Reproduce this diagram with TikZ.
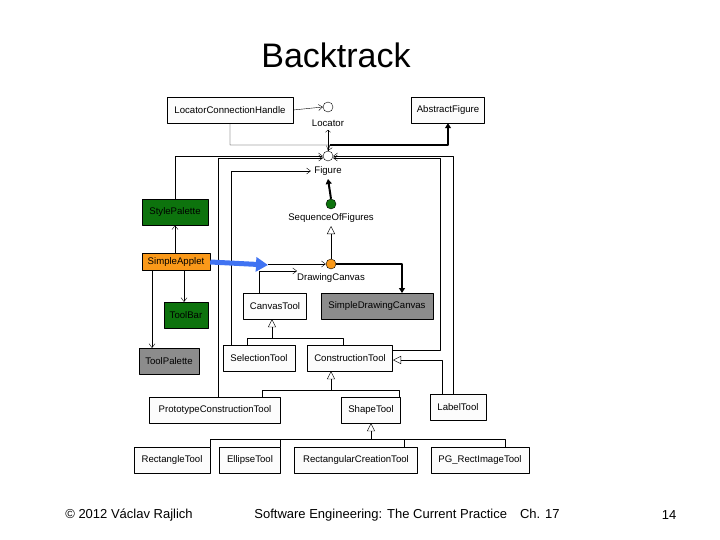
\documentclass[tikz,border=0pt]{standalone}
\usepackage{fontspec}
\setmainfont{Liberation Sans}
\usetikzlibrary{arrows.meta}
\definecolor{dkgreen}{rgb}{0.05,0.45,0.05}
\definecolor{applet}{rgb}{0.98,0.6,0.1}
\definecolor{boxgray}{rgb}{0.55,0.55,0.55}
\definecolor{boxfill}{rgb}{0.99,0.99,0.99}
\definecolor{arrblue}{rgb}{0.25,0.45,0.95}
\tikzset{
  cls/.style={draw, fill=boxfill, inner sep=0pt, minimum height=26pt, font=\fontsize{9.6}{11}\selectfont},
  ifc/.style={draw, circle, fill=white, minimum size=10pt, inner sep=0pt},
  lbl/.style={font=\fontsize{9.6}{11}\selectfont},
  uses/.style={-{Straight Barb[length=4pt,width=6pt]}},
  isa/.style={-{Triangle[open,length=8pt,width=8pt]}},
  strong/.style={line width=2pt,-{Triangle[length=5pt,width=6pt]}}
}
\begin{document}
\begin{tikzpicture}[x=1pt,y=-1pt,line join=round]
\useasboundingbox (0,0) rectangle (720,540);
\node[font=\fontsize{34}{38}\selectfont] (title) at (336,55) {Backtrack};
% classes
\node[cls, minimum width=126pt] (lch) at (230,110) {LocatorConnectionHandle};
\node[cls, minimum width=73pt] (abs) at (448,110) {AbstractFigure};
\node[ifc] (loc) at (328,107) {};
\node[lbl] (locl) at (328,123) {Locator};
\node[ifc] (fig) at (328,156) {};
\node[lbl] (figl) at (328,171) {Figure};
\node[cls, fill=dkgreen, minimum width=66pt] (style) at (175,212) {StylePalette};
\node[ifc, fill=dkgreen] (seq) at (331,204) {};
\node[lbl] (seql) at (331,218) {SequenceOfFigures};
\node[cls, fill=applet, minimum width=68pt, minimum height=17pt] (applet) at (176,262) {SimpleApplet};
\node[ifc, fill=applet] (dc) at (331,264) {};
\node[lbl] (dcl) at (331,278) {DrawingCanvas};
\node[cls, fill=dkgreen, minimum width=44pt] (bar) at (186,315) {ToolBar};
\node[cls, fill=boxgray, minimum width=60pt] (pal) at (169,361) {ToolPalette};
\node[cls, minimum width=63pt] (ctool) at (275,306) {CanvasTool};
\node[cls, fill=boxgray, minimum width=112pt] (sdc) at (377,306) {SimpleDrawingCanvas};
\node[cls, minimum width=72pt] (sel) at (259,358) {SelectionTool};
\node[cls, minimum width=85pt] (cons) at (350,358) {ConstructionTool};
\node[cls, minimum width=56pt] (label) at (458,407) {LabelTool};
\node[cls, minimum width=131pt] (proto) at (215,410) {PrototypeConstructionTool};
\node[cls, minimum width=59pt] (shape) at (371,410) {ShapeTool};
\node[cls, minimum width=76pt] (rect) at (172,460) {RectangleTool};
\node[cls, minimum width=61pt] (ell) at (250,460) {EllipseTool};
\node[cls, minimum width=123pt] (rcre) at (356,460) {RectangularCreationTool};
\node[cls, minimum width=98pt] (pgr) at (480,460) {PG\_RectImageTool};
% bend points
\coordinate (fj) at (330,145);
\coordinate (cj) at (272,338);
\coordinate (kj) at (331,390);
\coordinate (sj) at (371,439);
% connectors
\draw[uses] (lch.east) -- (loc.west);
\draw[uses] (lch.south) |- (fj) -- (fig.north);
\draw[->] (fig.north) -- (locl.south);
\draw[strong] (fj) -| (abs.south);
\draw[uses] (style.north) |- (fig.west);
\draw[uses] (218,397) |- (323,158);
\draw[uses] (453,394) |- (fig.east);
\draw[uses] (393,350) -| (440,158) -- (333,158);
\draw[uses] (231,345) |- (figl.west);
\draw[strong] (seq.north) -- (figl.south);
\draw[isa] (dc.north) -- (seql.south);
\draw[uses] (style.south |- applet.north) -- (style.south);
\draw[arrblue, line width=5pt, -{Triangle[length=12pt,width=14pt]}] (applet.east) -- (268,265);
\draw[uses] (268,264) -- (dc.west);
\draw[uses] (259,293) |- (297,271);
\draw[strong] (dc.east) -| (402,293);
\draw[uses] (152,270.5) -- (152,348);
\draw[uses] (184,270.5) -- (184,302);
\draw[isa] (247,345) |- (cj) -- (ctool.south -| cj);
\draw (cj) -| (343,345);
\draw[isa] (442,394) |- (393,360);
\draw[isa] (262,397) |- (kj) -- (cons.south -| kj);
\draw (kj) -| (399,397);
\draw[isa] (210,447) |- (sj) -- (shape.south);
\draw (280,447) |- (sj);
\draw (sj) -| (404,447);
\draw (sj) -| (505,447);
% footer
\node[font=\fontsize{13}{15}\selectfont] (copy) at (129,515) {© 2012 Václav Rajlich};
\node[font=\fontsize{13}{15}\selectfont] (book) at (407,515) {Software Engineering: The Current Practice\quad Ch. 17};
\node[font=\fontsize{13}{15}\selectfont] (page) at (669,515) {14};
\end{tikzpicture}
\end{document}
